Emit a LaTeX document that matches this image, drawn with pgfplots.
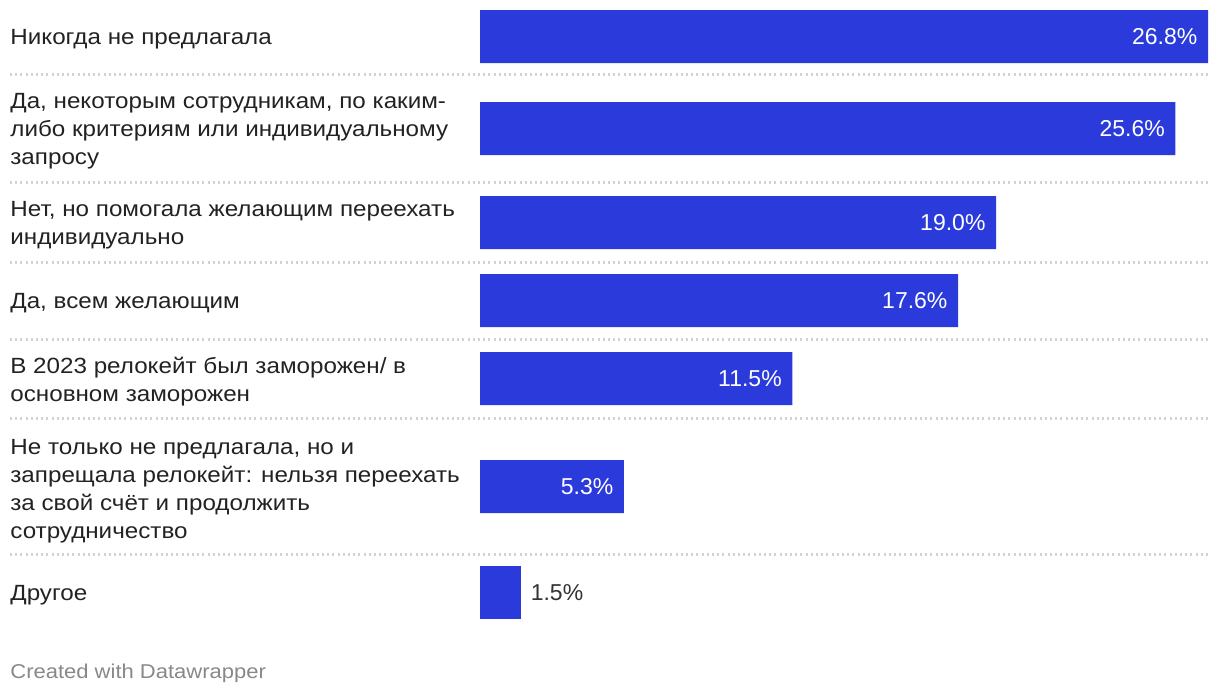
\documentclass[border=0pt]{standalone}
\usepackage{pgfplots}
\pgfplotsset{compat=1.18}
\usepackage{fontspec}
\setmainfont{Liberation Sans}[FakeStretch=1.1]
\newfontfamily\valfont{Liberation Sans}
\definecolor{barblue}{HTML}{2B3BDB}
\definecolor{labeltext}{HTML}{222222}
\definecolor{valtext}{HTML}{333333}
\definecolor{sep}{HTML}{D2D2D2}
\definecolor{foot}{HTML}{888888}
\begin{document}
\begin{tikzpicture}
\begin{axis}[
  scale only axis, width=610pt, height=349pt,
  xmin=-17.670, xmax=27.242, ymin=0, ymax=698, y dir=reverse,
  hide axis, clip=false,
]
\path (rel axis cs:0,0) rectangle (rel axis cs:1,1);
% separators
\foreach \yy in {74.5,182.5,262.5,339.5,418.5,554.5}{
  \edef\tmp{\noexpand\draw[sep, line width=1.1pt, dash pattern=on 1pt off 1.6pt] (axis cs:-17.302,\yy) -- (axis cs:26.874,\yy);}
  \tmp
}
\addplot[xbar, bar width=53, bar shift=0pt, fill=barblue, draw=none,
  point meta=x,
  nodes near coords={\pgfmathprintnumber[fixed,fixed zerofill,precision=1,assume math mode=true]{\pgfplotspointmeta}\%},
  every node near coord/.append style={anchor=east, xshift=-1.8pt, text=white, font=\valfont\fontsize{11.5}{14}\selectfont}]
  coordinates {(26.8,36.5) (25.6,128.5) (19.0,222.5) (17.6,300.5) (11.5,378.5) (5.3,486.5)};
\addplot[xbar, bar width=53, bar shift=0pt, fill=barblue, draw=none,
  point meta=x,
  nodes near coords={\pgfmathprintnumber[fixed,fixed zerofill,precision=1,assume math mode=true]{\pgfplotspointmeta}\%},
  every node near coord/.append style={anchor=west, xshift=1.5pt, text=valtext, font=\valfont\fontsize{11.5}{14}\selectfont}]
  coordinates {(1.5,592.5)};
\tikzset{lab/.style={anchor=west, align=left, text=labeltext, font=\fontsize{11}{14}\selectfont, inner sep=0pt, yshift=-1.5pt}}
\node[lab] at (axis cs:-17.302,36.5) {Никогда не предлагала};
\node[lab] at (axis cs:-17.302,128.5) {Да, некоторым сотрудникам, по каким-\\либо критериям или индивидуальному\\запросу};
\node[lab] at (axis cs:-17.302,222.5) {Нет, но помогала желающим переехать\\индивидуально};
\node[lab] at (axis cs:-17.302,300.5) {Да, всем желающим};
\node[lab] at (axis cs:-17.302,378.5) {В 2023 релокейт был заморожен/ в\\основном заморожен};
\node[lab] at (axis cs:-17.302,488.5) {Не только не предлагала, но и\\запрещала релокейт: нельзя переехать\\за свой счёт и продолжить\\сотрудничество};
\node[lab] at (axis cs:-17.302,592.5) {Другое};
\node[anchor=west, inner sep=0pt, text=foot, font=\fontsize{10}{12}\selectfont] at (axis cs:-17.302,673) {Created with Datawrapper};
\end{axis}
\end{tikzpicture}
\end{document}
